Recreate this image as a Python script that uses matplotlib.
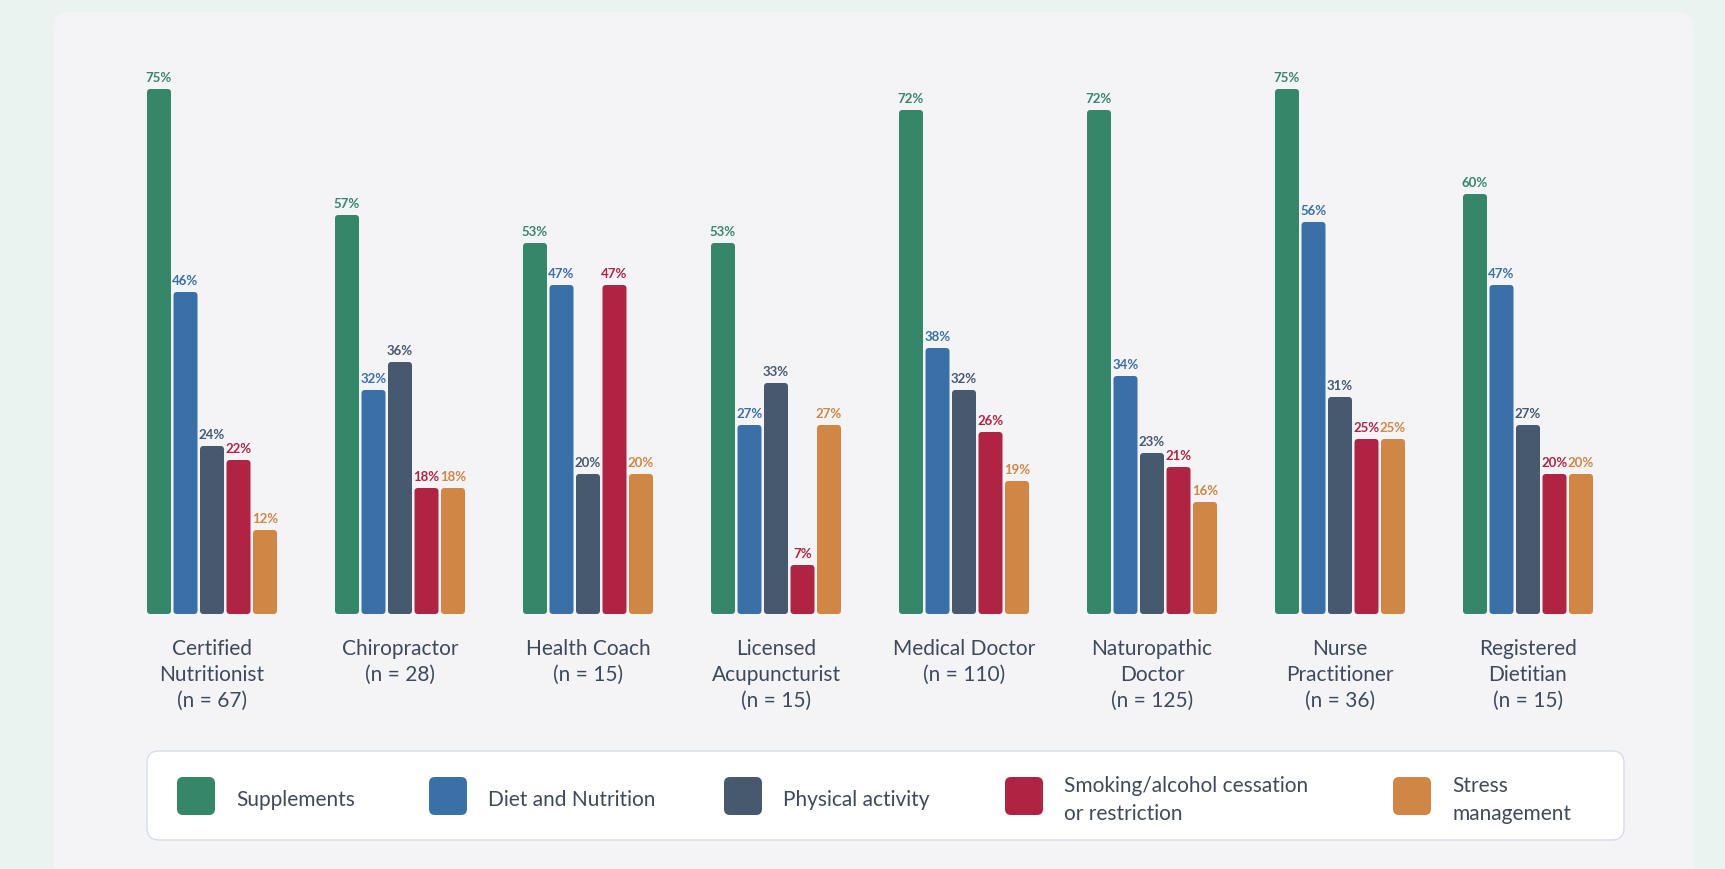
import matplotlib.pyplot as plt
from matplotlib.patches import FancyBboxPatch

plt.rcParams['font.family'] = ['Lato', 'DejaVu Sans']

# Share of each practitioner type recommending each intervention (%)
categories = ["Certified\nNutritionist\n(n = 67)", "Chiropractor\n(n = 28)",
              "Health Coach\n(n = 15)", "Licensed\nAcupuncturist\n(n = 15)",
              "Medical Doctor\n(n = 110)", "Naturopathic\nDoctor\n(n = 125)",
              "Nurse\nPractitioner\n(n = 36)", "Registered\nDietitian\n(n = 15)"]
series_names = ["Supplements", "Diet and Nutrition", "Physical activity",
                "Smoking/alcohol cessation\nor restriction", "Stress\nmanagement"]
supplements = [75, 57, 53, 53, 72, 72, 75, 60]
diet = [46, 32, 47, 27, 38, 34, 56, 47]
physical = [24, 36, 20, 33, 32, 23, 31, 27]
smoking = [22, 18, 47, 7, 26, 21, 25, 20]
stress = [12, 18, 20, 27, 19, 16, 25, 20]
series = [supplements, diet, physical, smoking, stress]
colors = ["#36866A", "#3A70A8", "#46596F", "#AF2443", "#D08644"]

TEXT = "#3E4A5C"
W, H = 1725, 870
GROUP_PX = 188.0      # distance between group centres
PCT_PX = 7.0          # pixels per percentage point
X0_PX = 212.0         # centre of first group
BASE_PX = 255.0       # baseline height from the bottom
BAR_STEP = 26.5 / GROUP_PX
BAR_W = 24.0 / GROUP_PX

fig = plt.figure(figsize=(W / 100, H / 100), dpi=100)
fig.patch.set_facecolor("#EAF3F0")

# background layer in pixel units: card and legend box
bg = fig.add_axes([0, 0, 1, 1])
bg.set_xlim(0, W)
bg.set_ylim(H, 0)
bg.axis("off")
bg.add_patch(FancyBboxPatch((54, 13), 1639, 900,
                            boxstyle="round,pad=0,rounding_size=16",
                            fc="#F4F4F7", ec="none"))
bg.add_patch(FancyBboxPatch((147, 752), 1477, 89,
                            boxstyle="round,pad=0,rounding_size=12",
                            fc="white", ec="#D6DDE6", lw=1))
swatch_x = [177, 429, 724, 1005, 1393]
for sx, name, c in zip(swatch_x, series_names, colors):
    bg.add_patch(FancyBboxPatch((sx, 778), 38, 38,
                                boxstyle="round,pad=0,rounding_size=6",
                                fc=c, ec="none"))
    bg.text(sx + 59, 800, name, ha="left", va="center", fontsize=15,
            color=TEXT, linespacing=1.45)

# bar layer in data units
ax = fig.add_axes([0, 0, 1, 1])
ax.patch.set_alpha(0)
ax.set_xlim(-X0_PX / GROUP_PX, (W - X0_PX) / GROUP_PX)
ax.set_ylim(-BASE_PX / PCT_PX, (H - BASE_PX) / PCT_PX)
ax.axis("off")

aspect = (1 / PCT_PX) / (1 / GROUP_PX)
for j, (vals, c) in enumerate(zip(series, colors)):
    xs = [i + (j - 2) * BAR_STEP for i in range(len(vals))]
    bars = ax.bar(xs, vals, width=BAR_W, color=c)
    for rect, v, x in zip(bars, vals, xs):
        rect.set_visible(False)
        ax.add_patch(FancyBboxPatch((rect.get_x(), 0), rect.get_width(), v,
                                    boxstyle="round,pad=0,rounding_size=%f" % (3.5 / GROUP_PX),
                                    mutation_aspect=aspect, fc=c, ec="none"))
        ax.annotate(f"{v}%", (x, v), xytext=(0, 4.5), textcoords="offset points",
                    ha="center", va="bottom", fontsize=9.5, fontweight="bold",
                    color=c)

for i, cat in enumerate(categories):
    ax.annotate(cat, (i, 0), xytext=(0, -17.5), textcoords="offset points",
                ha="center", va="top", fontsize=15, color=TEXT, linespacing=1.37)

fig.savefig("out.png", dpi=100, facecolor=fig.get_facecolor())
